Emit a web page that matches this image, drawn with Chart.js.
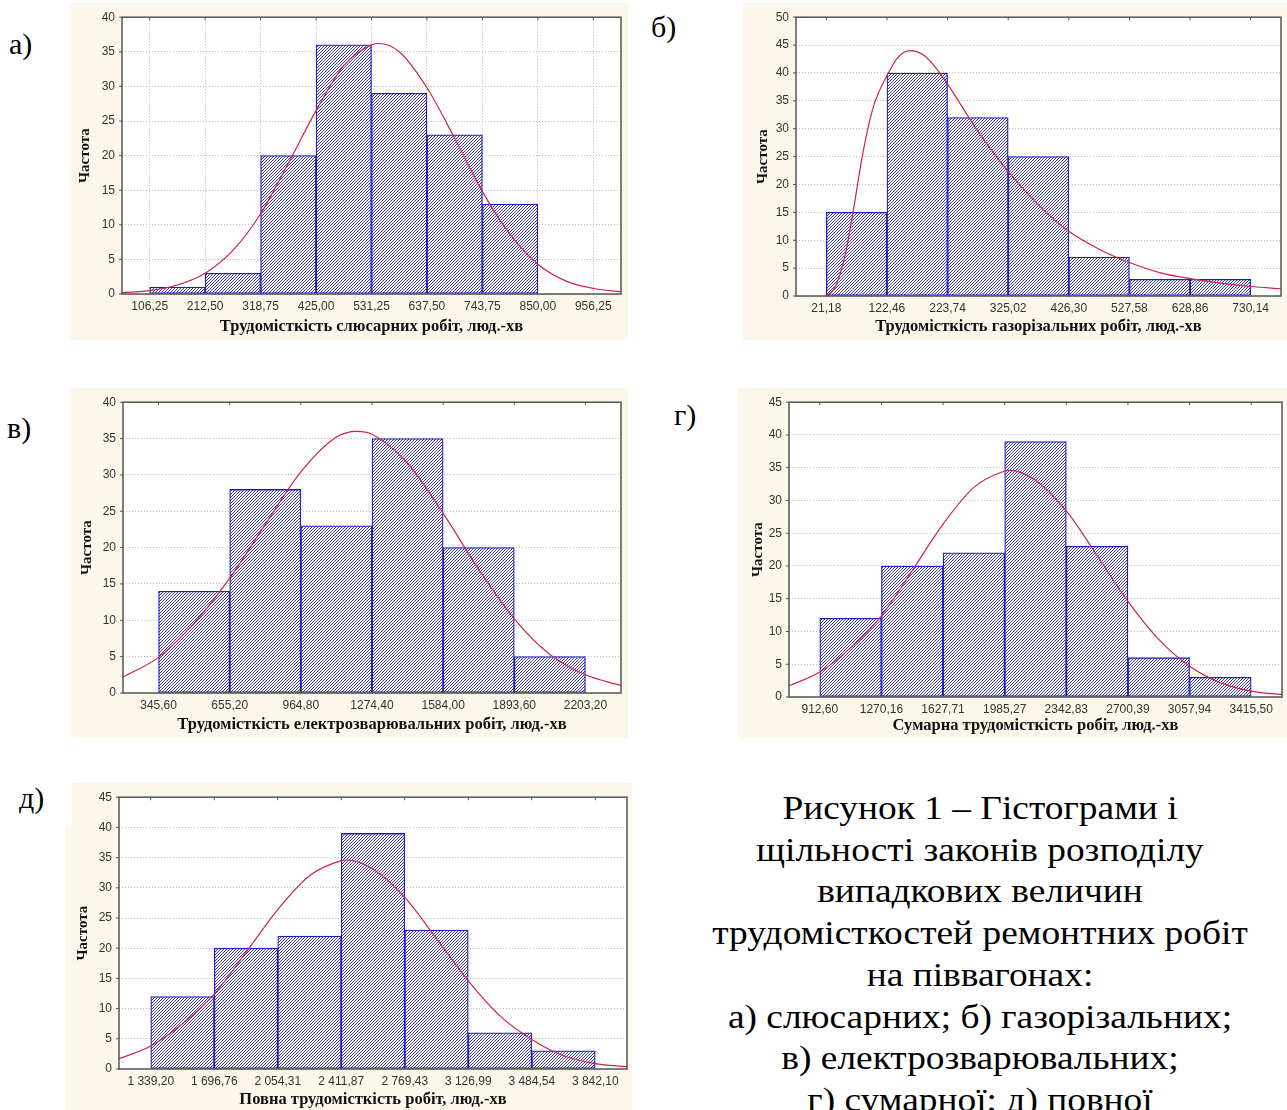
<!DOCTYPE html>
<html><head><meta charset="utf-8">
<script src="https://cdn.jsdelivr.net/npm/chart.js@4/dist/chart.umd.min.js"></script>
<style>
html,body{margin:0;padding:0;background:#fff;width:1287px;height:1110px;overflow:hidden;position:relative;font-family:"Liberation Serif","Times New Roman",serif;}
.bg{position:absolute;background:#fbf7ea;}
canvas{position:absolute;}
.lbl{position:absolute;font-size:30px;line-height:1;color:#000;}
#caption{position:absolute;left:680px;top:787px;width:600px;text-align:center;font-size:34px;line-height:41.7px;color:#000;white-space:nowrap;transform:scaleX(1.1);transform-origin:300px 0;}
</style></head><body>
<div class="bg" style="left:65px;top:826px;width:12px;height:284px"></div>
<canvas id="ca" width="558" height="337" style="left:70px;top:3px"></canvas>
<canvas id="cb" width="544" height="337" style="left:743px;top:3px"></canvas>
<canvas id="cc" width="558" height="350" style="left:70px;top:388px"></canvas>
<canvas id="cd" width="549" height="350" style="left:738px;top:388px"></canvas>
<canvas id="ce" width="560" height="327" style="left:72px;top:783px"></canvas>
<div class="lbl" style="left:9px;top:29px">а)</div>
<div class="lbl" style="left:651px;top:12px">б)</div>
<div class="lbl" style="left:7px;top:413px">в)</div>
<div class="lbl" style="left:674px;top:400px">г)</div>
<div class="lbl" style="left:19px;top:783px">д)</div>
<div id="caption">Рисунок 1 – Гістограми і<br>щільності законів розподілу<br>випадкових величин<br>трудомісткостей ремонтних робіт<br>на піввагонах:<br>а) слюсарних; б) газорізальних;<br>в) електрозварювальних;<br>г) сумарної; д) повної</div>
<script>
// ---------- DATA ----------
const yTitle = 'Частота';

// а) слюсарні роботи
const edgesA = [106.25, 212.50, 318.75, 425.00, 531.25, 637.50, 743.75, 850.00, 956.25];
const tickLabelsA = ['106,25','212,50','318,75','425,00','531,25','637,50','743,75','850,00','956,25'];
const freqA = [1, 3, 20, 36, 29, 23, 13];
const curveXA = [53.125, 106.25, 159.375, 212.5, 265.625, 318.75, 371.875, 425, 478.125, 531.25, 545, 584.375, 637.5, 690.625, 743.75, 796.875, 850, 903.125, 956.25, 1009.375];
const curveYA = [0.2, 0.5, 1.3, 3.0, 6.3, 11.6, 18.9, 26.5, 33.0, 36.0, 36.2, 35.0, 29.8, 22.5, 14.8, 8.6, 4.3, 1.9, 0.8, 0.3];
const titleA = 'Трудомісткість слюсарних робіт, люд.-хв';
const yMaxA = 40;

// б) газорізальні роботи
const edgesB = [21.18, 122.46, 223.74, 325.02, 426.30, 527.58, 628.86, 730.14];
const tickLabelsB = ['21,18','122,46','223,74','325,02','426,30','527,58','628,86','730,14'];
const freqB = [15, 40, 32, 25, 7, 3, 3];
const curveXB = [21.18, 36, 53, 65, 82, 100, 122.46, 141, 161, 181, 199, 223.74, 274, 325.02, 376, 426.30, 477, 527.58, 578, 628.86, 679.5, 730.14, 780.78];
const curveYB = [0, 1.6, 7.5, 14.5, 25.5, 34.0, 39.5, 42.8, 44.0, 43.4, 41.6, 38.0, 29.6, 22.3, 16.3, 11.6, 8.4, 6.0, 4.2, 3.1, 2.3, 1.7, 1.3];
const titleB = 'Трудомісткість газорізальних робіт, люд.-хв';
const yMaxB = 50;

// в) електрозварювальні роботи
const edgesC = [345.60, 655.20, 964.80, 1274.40, 1584.00, 1893.60, 2203.20];
const tickLabelsC = ['345,60','655,20','964,80','1274,40','1584,00','1893,60','2203,20'];
const freqC = [14, 28, 23, 35, 20, 5];
const curveXC = [190.8, 345.6, 500.4, 655.2, 810, 964.8, 1119.6, 1208, 1274.4, 1429.2, 1584, 1738.8, 1893.6, 2048.4, 2203.2, 2358];
const curveYC = [2.2, 4.9, 9.6, 15.8, 23.2, 30.4, 35.2, 36.0, 35.6, 31.6, 24.7, 17.0, 10.2, 5.3, 2.5, 1.0];
const titleC = 'Трудомісткість електрозварювальних робіт, люд.-хв';
const yMaxC = 40;

// г) сумарна трудомісткість
const edgesD = [912.60, 1270.16, 1627.71, 1985.27, 2342.83, 2700.39, 3057.94, 3415.50];
const tickLabelsD = ['912,60','1270,16','1627,71','1985,27','2342,83','2700,39','3057,94','3415,50'];
const freqD = [12, 20, 22, 39, 23, 6, 3];
const curveXD = [733.8, 912.6, 1091.4, 1270.16, 1448.9, 1627.71, 1806.5, 1985.27, 2012, 2164, 2342.83, 2521.6, 2700.39, 2879.2, 3057.94, 3236.7, 3415.5, 3594.3];
const curveYD = [1.7, 3.8, 7.5, 12.4, 19.3, 26.4, 32.0, 34.5, 34.6, 33.1, 28.4, 21.6, 14.6, 8.8, 4.7, 2.2, 0.9, 0.35];
const titleD = 'Сумарна трудомісткість робіт, люд.-хв';
const yMaxD = 45;

// д) повна трудомісткість
const edgesE = [1339.20, 1696.76, 2054.31, 2411.87, 2769.43, 3126.99, 3484.54, 3842.10];
const tickLabelsE = ['1 339,20','1 696,76','2 054,31','2 411,87','2 769,43','3 126,99','3 484,54','3 842,10'];
const freqE = [12, 20, 22, 39, 23, 6, 3];
const curveXE = [1160.4, 1339.2, 1518, 1696.76, 1875.5, 2054.31, 2233.1, 2411.87, 2438.6, 2590.6, 2769.43, 2948.2, 3126.99, 3305.8, 3484.54, 3663.3, 3842.1, 4020.9];
const curveYE = [1.7, 3.8, 7.5, 12.4, 19.3, 26.4, 32.0, 34.5, 34.6, 33.1, 28.4, 21.6, 14.6, 8.8, 4.9, 2.2, 0.9, 0.35];
const titleE = 'Повна трудомісткість робіт, люд.-хв';
const yMaxE = 45;

// ---------- STYLE / HELPERS ----------
function hatch() {
  const c = document.createElement('canvas');
  c.width = 3; c.height = 3;
  const g = c.getContext('2d');
  g.fillStyle = '#ffffff'; g.fillRect(0, 0, 3, 3);
  g.strokeStyle = '#3a3aac'; g.lineWidth = 1;
  g.beginPath();
  g.moveTo(0, 3); g.lineTo(3, 0);
  g.moveTo(-1, 1); g.lineTo(1, -1);
  g.moveTo(2, 4); g.lineTo(4, 2);
  g.stroke();
  return g.createPattern(c, 'repeat');
}

const framePlugin = {
  id: 'frame',
  beforeDraw(chart) {
    const { ctx, chartArea: a } = chart;
    ctx.save();
    ctx.fillStyle = '#fbf7ea';
    ctx.fillRect(0, 0, chart.width, chart.height);
    ctx.fillStyle = '#ffffff';
    ctx.fillRect(a.left, a.top, a.right - a.left, a.bottom - a.top);
    ctx.restore();
  },
  afterDatasetsDraw(chart) {
    const { ctx, chartArea: a } = chart;
    ctx.save();
    ctx.strokeStyle = '#555555';
    ctx.lineWidth = 1.5;
    ctx.strokeRect(a.left, a.top, a.right - a.left, a.bottom - a.top);
    ctx.lineWidth = 1;
    const xs = chart.scales.x, ys = chart.scales.y;
    ctx.beginPath();
    xs.ticks.forEach(t => { const px = xs.getPixelForValue(t.value); ctx.moveTo(px, a.top); ctx.lineTo(px, a.top + 3); });
    ys.ticks.forEach(t => { const py = ys.getPixelForValue(t.value); ctx.moveTo(a.left - 3, py); ctx.lineTo(a.left, py); });
    ctx.stroke();
    ctx.restore();
  }
};

function makeChart(id, p) {
  const bars = p.freq.map((v, i) => ({ x: (p.edges[i] + p.edges[i + 1]) / 2, y: v }));
  const curve = p.cx.map((x, i) => ({ x: x, y: p.cy[i] }));
  const step = p.edges[1] - p.edges[0];
  new Chart(document.getElementById(id), {
    type: 'bar',
    data: {
      datasets: [
        { type: 'line', data: curve, borderColor: '#cc2448', borderWidth: 1.2, pointRadius: 0, tension: 0.4, cubicInterpolationMode: 'monotone', fill: false, order: 0 },
        { type: 'bar', data: bars, backgroundColor: hatch(), borderColor: '#2020c0', borderWidth: 1.3, borderSkipped: false, barPercentage: 1, categoryPercentage: 1, order: 1 }
      ]
    },
    options: {
      responsive: false, animation: false, events: [],
      layout: { padding: { left: 0, top: p.padTop, right: p.padRight, bottom: 0 } },
      plugins: { legend: { display: false }, tooltip: { enabled: false } },
      scales: {
        x: {
          type: 'linear', offset: false,
          min: p.edges[0] - step / 2, max: p.edges[p.edges.length - 1] + step / 2,
          afterBuildTicks: s => { s.ticks = p.edges.map(v => ({ value: v })); },
          afterFit: s => { s.height = p.xH; },
          ticks: { autoSkip: false, maxRotation: 0, minRotation: 0, padding: 5, color: '#333', font: { family: 'Liberation Sans, Arial, sans-serif', size: 12 },
                   callback: (v, i) => p.labels[i] },
          grid: { display: p.vgrid, drawTicks: false, color: '#bdbdbd', lineWidth: 1, offset: false },
          border: { display: false, dash: [1, 2] },
          title: { display: true, text: p.title, color: '#111', padding: { top: 0, bottom: p.xTitlePad }, font: { family: 'Liberation Serif, Times New Roman, serif', size: 16.5, weight: 'bold' } }
        },
        y: {
          min: 0, max: p.yMax,
          afterFit: s => { s.width = p.yW; },
          ticks: { stepSize: 5, padding: 7, color: '#333', font: { family: 'Liberation Sans, Arial, sans-serif', size: 12 } },
          grid: { drawTicks: false, color: '#bdbdbd', lineWidth: 1 },
          border: { display: false, dash: [1, 2] },
          title: { display: true, text: yTitle, color: '#111', padding: { top: p.yTitlePad, bottom: 0 }, font: { family: 'Liberation Serif, Times New Roman, serif', size: 15, weight: 'bold' } }
        }
      }
    },
    plugins: [framePlugin]
  });
}

makeChart('ca', { edges: edgesA, labels: tickLabelsA, freq: freqA, cx: curveXA, cy: curveYA, title: titleA, yMax: yMaxA, vgrid: true,
  padTop: 10, padRight: 7, yW: 52, xH: 46, xTitlePad: 3, yTitlePad: 6 });
makeChart('cb', { edges: edgesB, labels: tickLabelsB, freq: freqB, cx: curveXB, cy: curveYB, title: titleB, yMax: yMaxB, vgrid: false,
  padTop: 10, padRight: 6, yW: 53, xH: 44, xTitlePad: 3, yTitlePad: 11 });
makeChart('cc', { edges: edgesC, labels: tickLabelsC, freq: freqC, cx: curveXC, cy: curveYC, title: titleC, yMax: yMaxC, vgrid: false,
  padTop: 11, padRight: 7, yW: 53, xH: 45, xTitlePad: 3, yTitlePad: 8 });
makeChart('cd', { edges: edgesD, labels: tickLabelsD, freq: freqD, cx: curveXD, cy: curveYD, title: titleD, yMax: yMaxD, vgrid: false,
  padTop: 10, padRight: 5, yW: 51, xH: 41, xTitlePad: 2, yTitlePad: 11 });
makeChart('ce', { edges: edgesE, labels: tickLabelsE, freq: freqE, cx: curveXE, cy: curveYE, title: titleE, yMax: yMaxE, vgrid: false,
  padTop: 7, padRight: 5, yW: 47, xH: 41, xTitlePad: 0, yTitlePad: 2 });
</script>
</body></html>
